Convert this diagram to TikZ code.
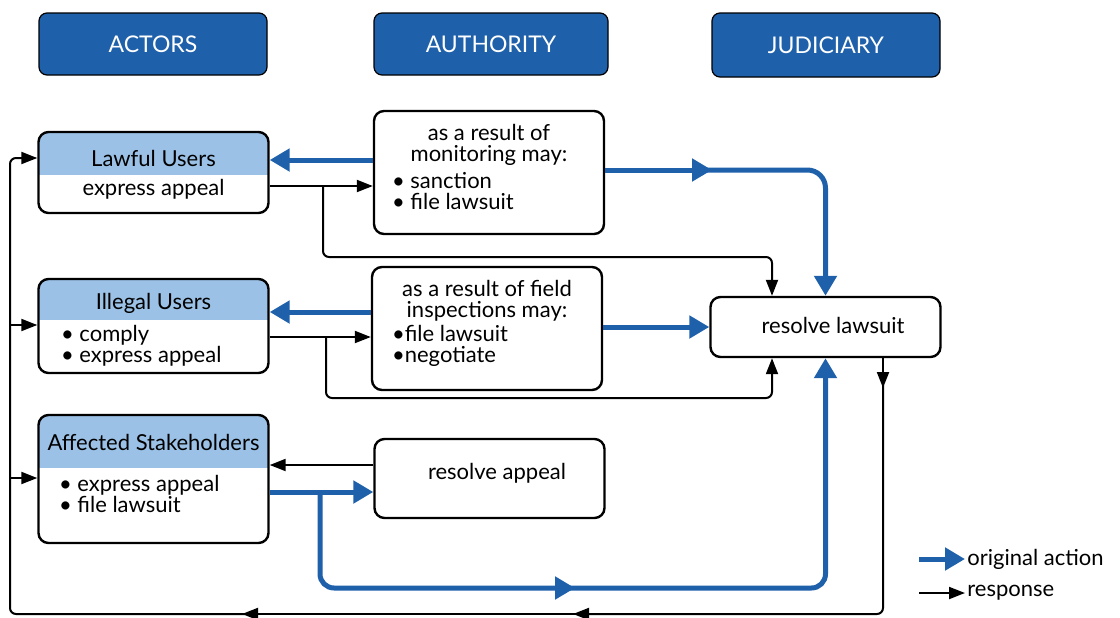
\documentclass[tikz,border=0pt]{standalone}
\usepackage{fontspec}
\setmainfont{Lato}
\usetikzlibrary{arrows.meta}
\definecolor{darkblue}{RGB}{31,96,170}
\definecolor{lightblue}{RGB}{155,194,230}
\begin{document}
\begin{tikzpicture}[x=0.5pt,y=-0.5pt,font=\fontsize{11}{10.5}\selectfont,
  hdr/.style={draw,fill=darkblue,text=white,font=\fontsize{11.5}{12}\selectfont,rounded corners=4pt,line width=0.6pt,minimum width=114pt,minimum height=31pt},
  plainbox/.style={draw,fill=white,rounded corners=5pt,line width=1.2pt,minimum width=115pt},
  userbox/.style={plainbox,path picture={\fill[lightblue,sharp corners](path picture bounding box.north west) rectangle ([yshift=-#1]path picture bounding box.north east);}},
  orig/.style={darkblue,line width=2.5pt,-{Triangle[length=10pt,width=11pt]}},
  resp/.style={line width=1pt,-{Triangle[length=8pt,width=6pt]}},
  lst/.style={align=left,anchor=west}]
\useasboundingbox(0,0)rectangle(1120,617);
%
\node[hdr](act)at(153,44){ACTORS};
\node[hdr,minimum width=117pt](aut)at(491,44){AUTHORITY};
\node[hdr,minimum height=32pt](jud)at(826,45){JUDICIARY};
%
\node[userbox=21.5pt,minimum height=40.5pt](lu)at(153.5,172.5){};
\node(lut)at(153.5,158){Lawful Users};
\node(lub)at(153.5,189){express appeal};
\node[userbox=20.5pt,minimum height=47pt](iu)at(153.5,326){};
\node(iut)at(153.5,303){Illegal Users};
\node[lst](iub)at(54,346){\textbullet\ comply\\\textbullet\ express appeal};
\node[userbox=26.5pt,minimum height=64pt](as)at(153.5,479){};
\node(ast)at(153.5,442){Affected Stakeholders};
\node[lst](asb)at(52,494){\textbullet\ express appeal\\\textbullet\ file lawsuit};
%
\node[plainbox,minimum height=61.5pt](au1)at(489,172.5){};
\node[align=center](au1t)at(489,145){as a result of\\monitoring may:};
\node[lst](au1b)at(385,191){\textbullet\ sanction\\\textbullet\ file lawsuit};
\node[plainbox,minimum height=61.5pt](au2)at(487,328.5){};
\node[align=center](au2t)at(487,300.5){as a result of field\\inspections may:};
\node[lst](au2b)at(385,346){\textbullet file lawsuit\\\textbullet negotiate};
\node[plainbox,minimum height=39.5pt](ra)at(489.5,478.5){};
\node(rat)at(497,473){resolve appeal};
%
\node[plainbox,minimum height=30pt](rl)at(825.5,327){};
\node(rlt)at(833,325){resolve lawsuit};
%
\draw[orig](au1.west|-0,160)--(lu.east|-0,160);
\draw[orig](au1.east|-0,170)--(712,170);
\draw[orig,rounded corners=9pt](705,170)-|(rl.north);
\draw[orig](au2.west|-0,312)--(iu.east|-0,312);
\draw[orig](au2.east|-rl.west)--(rl.west);
\draw[orig](as.east|-0,492)--(ra.west|-0,492);
\draw[orig,rounded corners=7pt](320,492)|-(575,588);
\draw[orig,rounded corners=7pt](570,588)-|(rl.south);
%
\draw[resp](lu.east|-0,186)--(au1.west|-0,186);
\draw[resp,rounded corners=3pt](323,186)|-(772,257)--(rl.north-|772,0);
\draw[resp](iu.east|-0,337)--(au2.west|-0,337);
\draw[resp,rounded corners=3pt](326,337)|-(772,398)--(rl.south-|772,0);
\draw[resp](ra.west|-0,465)--(as.east|-0,465);
\draw[resp](rl.south-|883,0)--(883,388);
\draw[resp,rounded corners=3pt](883,385)|-(573,614);
\draw[resp](576,614)--(242,614);
\draw[resp,rounded corners=3pt](245,614)-|(10,158)--(lu.west|-0,158);
\draw[resp](10,325)--(iu.west|-0,325);
\draw[resp](10,478)--(as.west|-0,478);
%
\node[anchor=west,inner sep=1pt](lgo)at(965,559){original action};
\node[anchor=west,inner sep=1pt](lgr)at(965,593){response};
\draw[orig]([xshift=-23pt]lgo.west)--(lgo.west);
\draw[resp]([xshift=-23pt]lgr.west)--(lgr.west);
\end{tikzpicture}
\end{document}
